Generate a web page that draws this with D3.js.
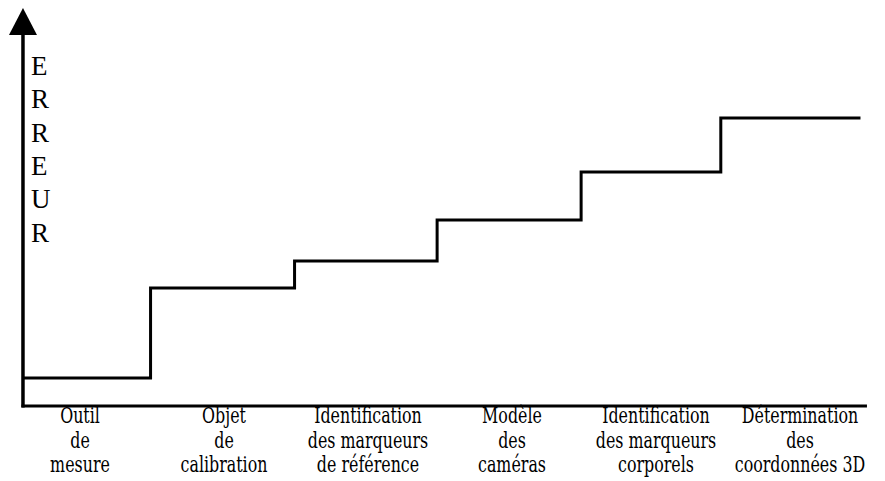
<!DOCTYPE html>
<html>
<head>
<meta charset="utf-8">
<script src="https://cdn.jsdelivr.net/npm/d3@7"></script>
<style>
  html, body { margin: 0; padding: 0; background: #fff; }
  svg { display: block; }
  .ylet { font-family: "Liberation Serif", "DejaVu Serif", serif; }
  .cat { font-family: "DejaVu Serif", serif; }
</style>
</head>
<body>
<svg id="chart" width="885" height="481"></svg>
<script>
// ---- data ----
const categories = [
  ["Outil", "de", "mesure"],
  ["Objet", "de", "calibration"],
  ["Identification", "des marqueurs", "de référence"],
  ["Modèle", "des", "caméras"],
  ["Identification", "des marqueurs", "corporels"],
  ["Détermination", "des", "coordonnées 3D"]
];
// x positions (in category units) where each error level begins; last = end of line
const stepEdges = [0.104, 0.99, 1.99, 2.98, 3.98, 4.95, 5.92];
// error level (arbitrary units, 0-100) for each stage
const errorLevels = [7, 29.5, 36.25, 46.5, 58.5, 72];
const axisLetters = ["E", "R", "R", "E", "U", "R"];
const xAxisEnd = 5.965;
const yArrowTip = 99.5;
const yArrowBase = 92.75;

// ---- scales ----
const svg = d3.select("#chart");
const x = d3.scaleLinear().domain([0, categories.length]).range([8, 872]);
const y = d3.scaleLinear().domain([0, 100]).range([406, 6]);

const ox = x(stepEdges[0]);
const oy = y(0);

// x axis
svg.append("line")
  .attr("x1", ox - 1.5).attr("x2", x(xAxisEnd))
  .attr("y1", oy).attr("y2", oy)
  .attr("stroke", "#000").attr("stroke-width", 3);

// y axis
svg.append("line")
  .attr("x1", ox).attr("x2", ox)
  .attr("y1", oy + 1.5).attr("y2", y(yArrowBase))
  .attr("stroke", "#000").attr("stroke-width", 3.5);

// arrow head
svg.append("path")
  .attr("d", d3.line()([
    [ox, y(yArrowTip)],
    [ox - 14, y(yArrowBase)],
    [ox + 14, y(yArrowBase)]
  ]) + "Z")
  .attr("fill", "#000");

// y label, vertical letters
svg.append("g")
  .selectAll("text")
  .data(axisLetters)
  .join("text")
  .attr("class", "ylet")
  .attr("x", ox + 8)
  .attr("y", (d, i) => 75 + i * 33.33)
  .style("font-size", "27px")
  .attr("fill", "#000")
  .text(d => d);

// step line
const pts = errorLevels.map((v, i) => [stepEdges[i], v]);
pts.push([stepEdges[stepEdges.length - 1], errorLevels[errorLevels.length - 1]]);
const stepLine = d3.line()
  .x(d => x(d[0]))
  .y(d => y(d[1]))
  .curve(d3.curveStepAfter);

svg.append("path")
  .attr("d", stepLine(pts))
  .attr("fill", "none")
  .attr("stroke", "#000")
  .attr("stroke-width", 3)
  .attr("stroke-linejoin", "miter");

// category labels
const lab = svg.append("g")
  .selectAll("g")
  .data(categories)
  .join("g")
  .attr("transform", (d, i) => `translate(${x(i + 0.5)},0)`);

lab.selectAll("text")
  .data(d => d)
  .join("text")
  .attr("class", "cat")
  .attr("transform", (d, j) => `translate(0,${423 + j * 24.5}) scale(0.69,1)`)
  .attr("text-anchor", "middle")
  .style("font-size", "23px")
  .attr("fill", "#000")
  .text(d => d);
</script>
</body>
</html>
